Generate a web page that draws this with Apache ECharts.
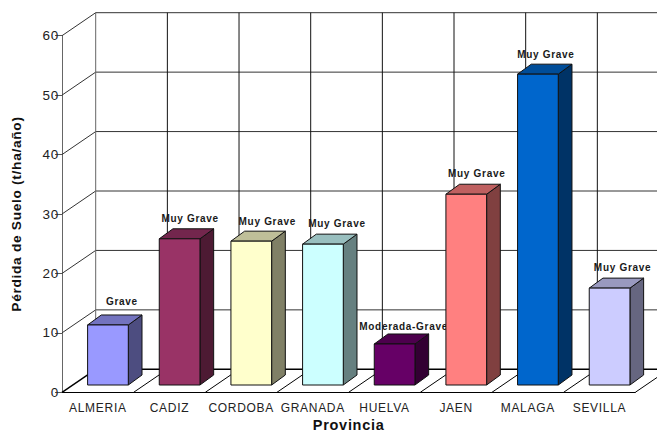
<!DOCTYPE html>
<html><head><meta charset="utf-8">
<style>
html,body{margin:0;padding:0;background:#fff}
#c{width:657px;height:432px}
svg text{letter-spacing:.7px}
</style>
<script src="https://cdn.jsdelivr.net/npm/echarts@6/dist/echarts.min.js"></script>
</head><body><div id="c"></div>
<script>
const categories=['ALMERIA','CADIZ','CORDOBA','GRANADA','HUELVA','JAEN','MALAGA','SEVILLA'];
const soilLoss=[10.1,24.6,24.2,23.7,6.9,32.1,52.3,16.3];
const severity=['Grave','Muy Grave','Muy Grave','Muy Grave','Moderada-Grave','Muy Grave','Muy Grave','Muy Grave'];
const yTicks=[0,10,20,30,40,50,60];
const barColors=['#9999FF','#993366','#FFFFCC','#CCFFFF','#660066','#FF8080','#0066CC','#CCCCFF'];
const labelNudge=[14,10.5,16,14,9,10.5,8,13];
const labelLift=[13,10,10,11,7,11,10,11];

const FONT='"Liberation Sans",Arial,sans-serif';
const DEPTH=[33.7,-23];      // floor depth in px
const BAR_FRONT=[10.5,-7.3]; // bar front inset
const BAR_DEPTH=[13.7,-10];  // bar depth

function shade(hex,k){
  const n=parseInt(hex.slice(1),16);
  const c=[n>>16,(n>>8)&255,n&255].map(v=>Math.round(v*k));
  return 'rgb('+c.join(',')+')';
}
function line(x1,y1,x2,y2,stroke,w){
  return {type:'line',silent:true,shape:{x1,y1,x2,y2},style:{stroke,lineWidth:w||1}};
}
function renderHoriz(params,api){
  const cs=params.coordSys;
  const y=api.coord([0,api.value(0)])[1];
  const isFloor=api.value(0)===0;
  const stroke=isFloor?'#000':'#333';
  return {type:'group',children:[
    line(cs.x,y,cs.x+DEPTH[0],y+DEPTH[1],isFloor?'#000':'#333',isFloor?1.4:1),
    line(cs.x+DEPTH[0],y+DEPTH[1],cs.x+cs.width+DEPTH[0],y+DEPTH[1],stroke,isFloor?1.4:1)
  ]};
}
function renderVert(params,api){
  const cs=params.coordSys;
  const band=api.size([1,0])[0];
  const left=api.coord([api.value(0),0])[0]-band/2;
  const y0=cs.y+cs.height, y1=cs.y;
  const kids=[];
  kids.push(line(left+DEPTH[0],y0+DEPTH[1],left+DEPTH[0],y1+DEPTH[1],params.dataIndex===0?'#666':'#111',1));
  if(params.dataIndex>0) kids.push(line(left,y0,left+DEPTH[0],y0+DEPTH[1],'#000',1));
  if(params.dataIndex===categories.length-1)
    kids.push(line(left+band,y0,left+band+DEPTH[0],y0+DEPTH[1],'#000',1));
  return {type:'group',children:kids};
}
function renderBar(params,api){
  const i=params.dataIndex;
  const band=api.size([1,0])[0];
  const cx=api.coord([i,0])[0];
  const y0=api.coord([i,0])[1]+BAR_FRONT[1];
  const yt=api.coord([i,api.value(1)])[1]+BAR_FRONT[1];
  const xl=cx-band/2+25.6, xr=xl+40.7;
  const c=barColors[i], dx=BAR_DEPTH[0], dy=BAR_DEPTH[1];
  const st={stroke:'#111',lineWidth:1,lineJoin:'round'};
  return {type:'group',children:[
    {type:'polygon',shape:{points:[[xr,y0],[xr+dx,y0+dy],[xr+dx,yt+dy],[xr,yt]]},style:{fill:shade(c,.5),...st}},
    {type:'polygon',shape:{points:[[xl,yt],[xr,yt],[xr+dx,yt+dy],[xl+dx,yt+dy]]},style:{fill:shade(c,.75),...st}},
    {type:'polygon',shape:{points:[[xl,y0],[xr,y0],[xr,yt],[xl,yt]]},style:{fill:c,...st}},
    {type:'text',style:{text:severity[i],x:(xl+xr)/2+labelNudge[i],y:yt+dy-labelLift[i],align:'center',verticalAlign:'middle',
      fill:'#1a1a1a',font:'bold 10px '+FONT}}
  ]};
}
const chart=echarts.init(document.getElementById('c'),null,{renderer:'svg'});
chart.setOption({
  animation:false,
  backgroundColor:'#fff',
  grid:{left:62,right:21.7,top:35.7,bottom:39.7,containLabel:false,outerBoundsMode:'none'},
  xAxis:{type:'category',data:categories,boundaryGap:true,
    name:'Provincia',nameLocation:'middle',nameGap:32.5,nameMoveOverlap:false,
    nameTextStyle:{fontFamily:FONT,fontWeight:'bold',fontSize:14.5,color:'#111',verticalAlign:'middle'},
    axisLine:{lineStyle:{color:'#000',width:1}},
    axisTick:{length:6,alignWithLabel:false,lineStyle:{color:'#555'}},
    axisLabel:{interval:0,margin:10,fontFamily:FONT,fontSize:12,color:'#222',hideOverlap:false},
    splitLine:{show:false}},
  yAxis:{type:'value',min:0,max:60,interval:10,
    name:'Pérdida de Suelo (t/ha/año)',nameLocation:'middle',nameGap:39,nameMoveOverlap:false,
    nameTextStyle:{fontFamily:FONT,fontWeight:'bold',fontSize:13.7,color:'#111'},
    axisLine:{show:true,lineStyle:{color:'#666',width:1}},
    axisTick:{show:true,length:7,lineStyle:{color:'#555'}},
    axisLabel:{margin:3,fontFamily:FONT,fontSize:13.5,color:'#222'},
    splitLine:{show:false}},
  series:[
    {type:'custom',name:'walls-h',coordinateSystem:'cartesian2d',clip:false,silent:true,z:1,encode:{y:0},
      data:yTicks.map(v=>[v]),renderItem:renderHoriz,tooltip:{show:false}},
    {type:'custom',name:'walls-v',coordinateSystem:'cartesian2d',clip:false,silent:true,z:1,encode:{x:0},
      data:categories.map((c,i)=>[i]),renderItem:renderVert},
    {type:'custom',name:'Pérdida de Suelo',coordinateSystem:'cartesian2d',clip:false,z:3,encode:{x:0,y:1},
      data:soilLoss.map((v,i)=>[i,v]),renderItem:renderBar}
  ]
});
</script></body></html>
